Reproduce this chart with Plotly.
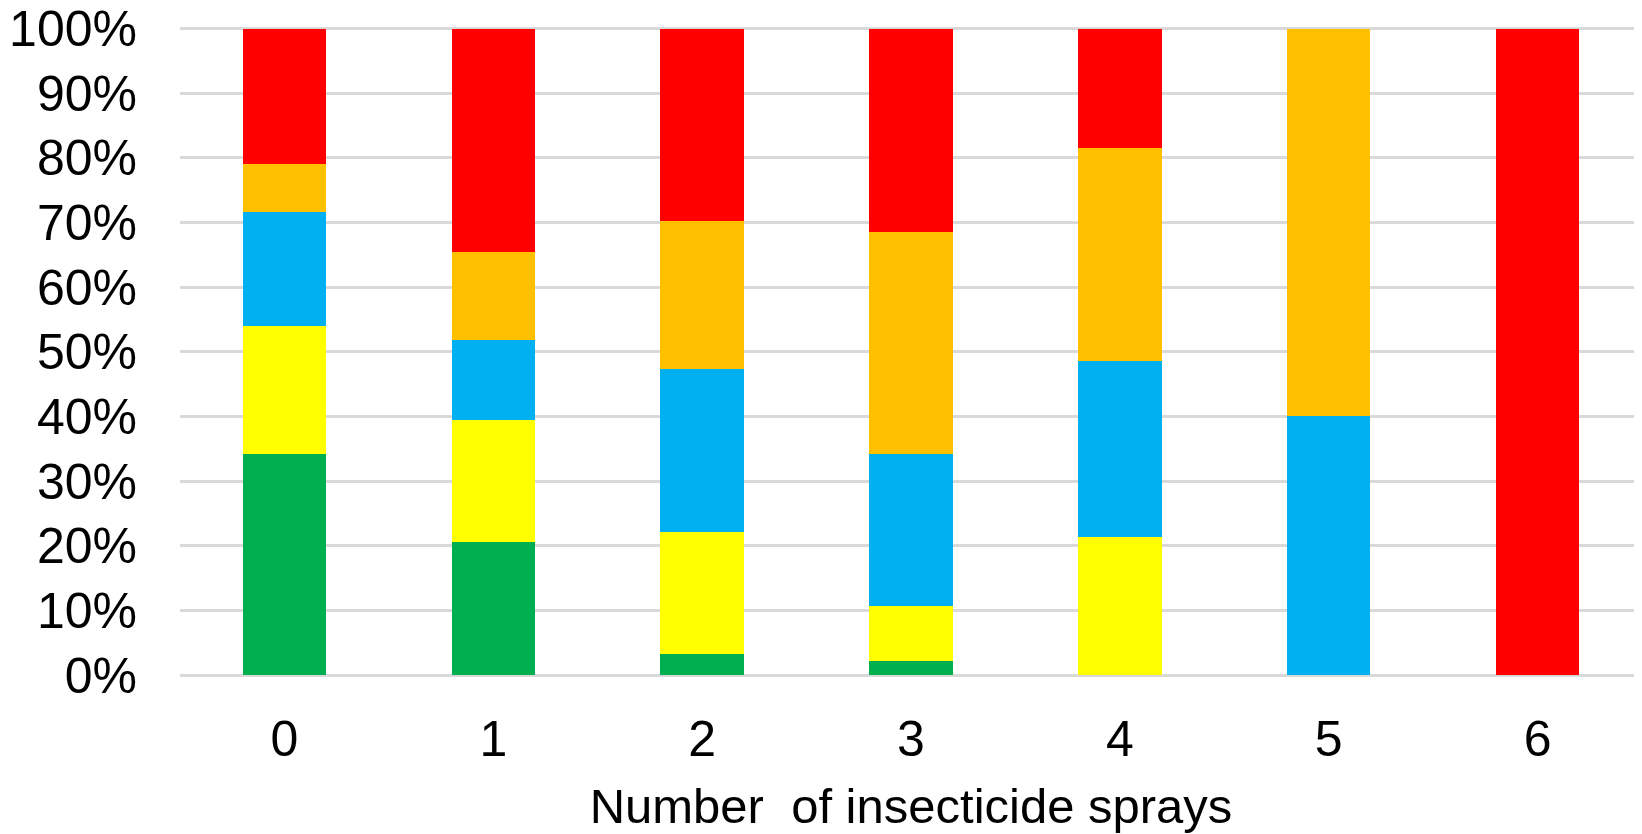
import plotly.graph_objects as go

# number of sprays on the x axis
sprays = ["0", "1", "2", "3", "4", "5", "6"]

# share of each class per spray count (%), stacked bottom to top
green = [34.2, 20.6, 3.3, 2.2, 0, 0, 0]
yellow = [19.8, 18.8, 18.8, 8.5, 21.3, 0, 0]
blue = [17.6, 12.5, 25.2, 23.5, 27.2, 40.0, 0]
orange = [7.4, 13.5, 23.0, 34.3, 33.1, 60.0, 0]
red = [21.0, 34.6, 29.7, 31.5, 18.4, 0, 100.0]

series = [
    ("Green", green, "#00B050"),
    ("Yellow", yellow, "#FFFF00"),
    ("Blue", blue, "#00B0F0"),
    ("Orange", orange, "#FFC000"),
    ("Red", red, "#FF0000"),
]

FONT = "Liberation Sans, Arial, sans-serif"

fig = go.Figure()
for name, vals, color in series:
    fig.add_trace(go.Bar(
        x=sprays,
        y=vals,
        name=name,
        marker=dict(color=color, line=dict(width=0)),
    ))

# page body adds an 8px margin, so the figure is a bit smaller than the window
fig.update_layout(
    barmode="stack",
    bargap=0.6,
    width=1634,
    height=826,
    margin=dict(l=172, r=0, t=18, b=159),
    plot_bgcolor="white",
    paper_bgcolor="white",
    showlegend=False,
    font=dict(family=FONT, size=50, color="black"),
)

# range goes a hair past 100 so the top gridline still gets drawn
fig.update_yaxes(
    range=[0, 100.4],
    tick0=0,
    dtick=10,
    ticksuffix="%",
    showgrid=True,
    gridcolor="#D9D9D9",
    gridwidth=3,
    zeroline=True,
    zerolinecolor="#D9D9D9",
    zerolinewidth=3,
    ticklabelstandoff=42,
    ticklabeloverflow="allow",
    tickfont=dict(size=50),
    automargin=False,
)

fig.update_xaxes(
    title=dict(text="Number  of insecticide sprays", font=dict(size=49), standoff=22),
    tickfont=dict(size=50),
    ticklabelstandoff=30,
    showline=False,
    automargin=False,
)

fig.write_html("out.html")
